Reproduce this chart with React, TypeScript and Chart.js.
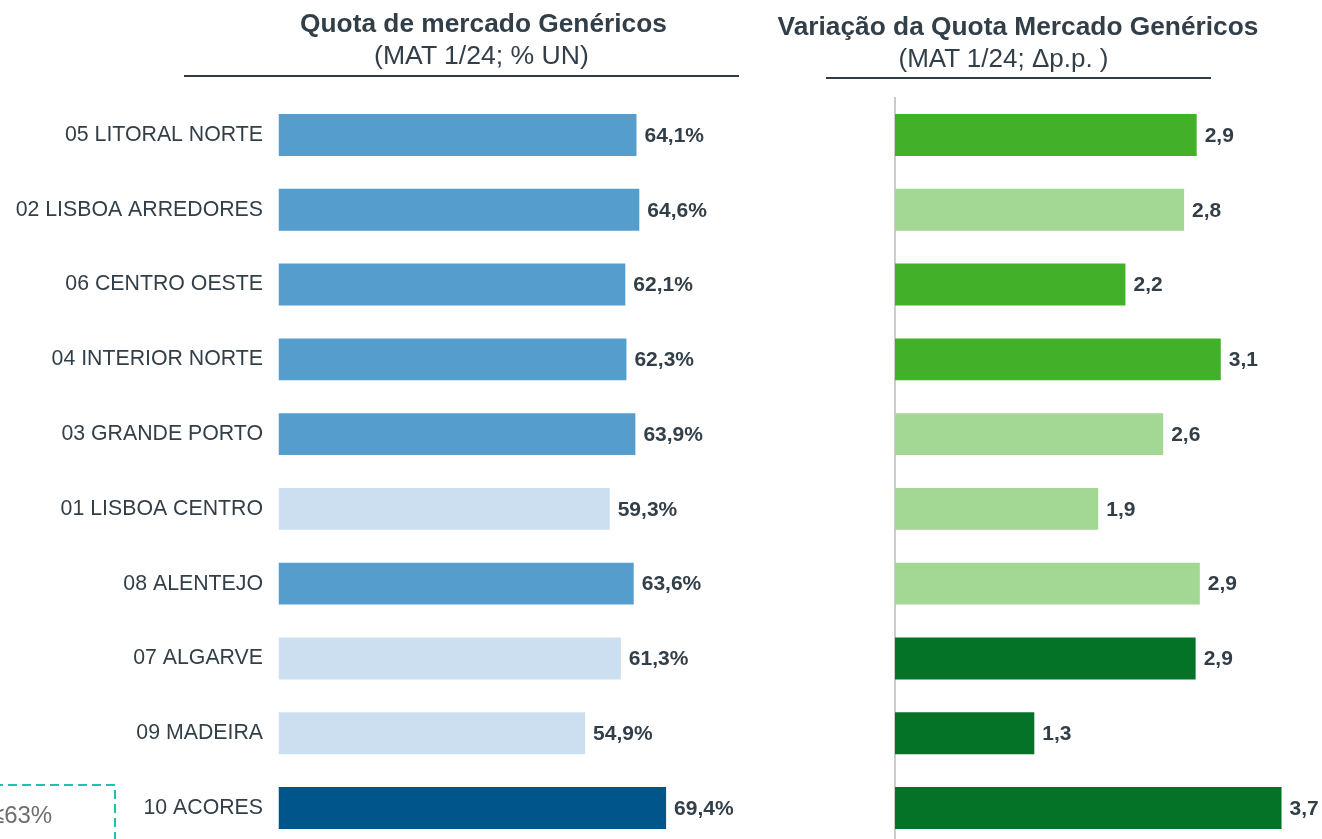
import React, { useEffect, useRef } from "react";
import { Chart, registerables } from "chart.js";

Chart.register(...registerables);

const regions = [
  "05 LITORAL NORTE",
  "02 LISBOA ARREDORES",
  "06 CENTRO OESTE",
  "04 INTERIOR NORTE",
  "03 GRANDE PORTO",
  "01 LISBOA CENTRO",
  "08 ALENTEJO",
  "07 ALGARVE",
  "09 MADEIRA",
  "10 ACORES",
];

const shareValues = [64.1, 64.6, 62.1, 62.3, 63.9, 59.3, 63.6, 61.3, 54.9, 69.4];
const changeValues = [2.88, 2.76, 2.2, 3.11, 2.56, 1.94, 2.91, 2.87, 1.33, 3.69];

const BLUE_MID = "#559dcd";
const BLUE_LIGHT = "#ccdff0";
const BLUE_DARK = "#00558a";
const GREEN_BRIGHT = "#43b02a";
const GREEN_LIGHT = "#a2d794";
const GREEN_DARK = "#047227";

const shareColors = [
  BLUE_MID, BLUE_MID, BLUE_MID, BLUE_MID, BLUE_MID,
  BLUE_LIGHT, BLUE_MID, BLUE_LIGHT, BLUE_LIGHT, BLUE_DARK,
];
const changeColors = [
  GREEN_BRIGHT, GREEN_LIGHT, GREEN_BRIGHT, GREEN_BRIGHT, GREEN_LIGHT,
  GREEN_LIGHT, GREEN_LIGHT, GREEN_DARK, GREEN_DARK, GREEN_DARK,
];

const FONT = '"Liberation Sans", Arial, Helvetica, sans-serif';
const TEXT = "#333f48";

const fmtShare = (v: number) => v.toFixed(1).replace(".", ",") + "%";
const fmtChange = (v: number) => v.toFixed(1).replace(".", ",");

function valueLabels(fmt: (v: number) => string) {
  return {
    id: "valueLabels",
    afterDatasetsDraw(chart: any) {
      const ctx = chart.ctx;
      const meta = chart.getDatasetMeta(0);
      const data = chart.data.datasets[0].data as number[];
      ctx.save();
      ctx.font = `bold 21px ${FONT}`;
      ctx.fillStyle = TEXT;
      ctx.textAlign = "left";
      ctx.textBaseline = "middle";
      meta.data.forEach((el: any, i: number) => {
        ctx.fillText(fmt(data[i]), el.x + 8, el.y + 1);
      });
      ctx.restore();
    },
  };
}

const CANVAS_H = 870;
const PAD_TOP = 97.6;
const PAD_BOTTOM = CANVAS_H - 845.4;

function ShareChart() {
  const ref = useRef<HTMLCanvasElement>(null);
  useEffect(() => {
    const chart = new Chart(ref.current!, {
      type: "bar",
      data: {
        labels: regions,
        datasets: [
          {
            data: shareValues,
            backgroundColor: shareColors,
            borderWidth: 0,
            categoryPercentage: 1,
            barPercentage: 0.56,
          },
        ],
      },
      options: {
        indexAxis: "y",
        responsive: false,
        animation: false,
        layout: { padding: { top: PAD_TOP, bottom: PAD_BOTTOM, left: 0, right: 23 } },
        plugins: { legend: { display: false }, tooltip: { enabled: false } },
        scales: {
          x: { display: false, min: 0, max: 100 },
          y: {
            grid: { display: false, drawTicks: false },
            border: { display: false },
            ticks: {
              autoSkip: false,
              padding: 15.5,
              color: TEXT,
              font: { size: 21.3, family: FONT },
            },
            afterFit: (scale: any) => {
              scale.width = 278.5;
              scale.paddingTop = 0;
              scale.paddingBottom = 0;
            },
          },
        },
      },
      plugins: [valueLabels(fmtShare)],
    });
    return () => chart.destroy();
  }, []);
  return (
    <canvas
      ref={ref}
      width={860}
      height={CANVAS_H}
      style={{ position: "absolute", left: 0, top: 0, width: 860, height: CANVAS_H }}
    />
  );
}

function ChangeChart() {
  const ref = useRef<HTMLCanvasElement>(null);
  useEffect(() => {
    const chart = new Chart(ref.current!, {
      type: "bar",
      data: {
        labels: regions,
        datasets: [
          {
            data: changeValues,
            backgroundColor: changeColors,
            borderWidth: 0,
            categoryPercentage: 1,
            barPercentage: 0.56,
          },
        ],
      },
      options: {
        indexAxis: "y",
        responsive: false,
        animation: false,
        layout: { padding: { top: PAD_TOP, bottom: PAD_BOTTOM, left: 35, right: 8 } },
        plugins: { legend: { display: false }, tooltip: { enabled: false } },
        scales: {
          x: { display: false, min: 0, max: 4 },
          y: {
            grid: { display: false, drawTicks: false },
            border: { display: true, color: "#cccccc", width: 2 },
            ticks: { display: false },
            afterFit: (scale: any) => {
              scale.width = 0;
            },
          },
        },
      },
      plugins: [valueLabels(fmtChange)],
    });
    return () => chart.destroy();
  }, []);
  return (
    <canvas
      ref={ref}
      width={462}
      height={CANVAS_H}
      style={{ position: "absolute", left: 860, top: 0, width: 462, height: CANVAS_H }}
    />
  );
}

function Text({
  center,
  top,
  bold,
  children,
  size = 26,
}: {
  center: number;
  top: number;
  bold?: boolean;
  children: React.ReactNode;
  size?: number;
}) {
  return (
    <div
      style={{
        position: "absolute",
        left: center - 300,
        width: 600,
        top,
        textAlign: "center",
        fontFamily: FONT,
        fontSize: size,
        lineHeight: `${size}px`,
        fontWeight: bold ? 700 : 400,
        color: TEXT,
        whiteSpace: "pre",
      }}
    >
      {children}
    </div>
  );
}

export default function App() {
  return (
    <div
      style={{
        position: "fixed",
        left: 0,
        top: 0,
        width: 1322,
        height: 839,
        overflow: "hidden",
        background: "#ffffff",
      }}
    >
      <ShareChart />
      <ChangeChart />

      <Text center={483.5} top={10} bold size={26.3}>
        Quota de mercado Genéricos
      </Text>
      <Text center={481.5} top={42} size={26.6}>
        (MAT 1/24; % UN)
      </Text>
      <div
        style={{
          position: "absolute",
          left: 184,
          top: 75,
          width: 555,
          height: 2,
          background: "#2f3b45",
        }}
      />

      <Text center={1018} top={13} bold size={26.3}>
        Variação da Quota Mercado Genéricos
      </Text>
      <Text center={1003.5} top={45} size={26}>
        {"(MAT 1/24; Δp.p. )"}
      </Text>
      <div
        style={{
          position: "absolute",
          left: 826,
          top: 77,
          width: 385,
          height: 2,
          background: "#2f3b45",
        }}
      />

      <svg
        width={120}
        height={60}
        style={{ position: "absolute", left: 0, top: 780 }}
      >
        <path
          d="M -20 5 H 115 V 70"
          fill="none"
          stroke="#20c0b0"
          strokeWidth={2}
          strokeDasharray="9 5"
        />
      </svg>
      <div
        style={{
          position: "absolute",
          left: -9,
          top: 803,
          fontFamily: FONT,
          fontSize: 24,
          lineHeight: "24px",
          color: "#6e6e6e",
          whiteSpace: "pre",
        }}
      >
        ≤63%
      </div>
    </div>
  );
}
